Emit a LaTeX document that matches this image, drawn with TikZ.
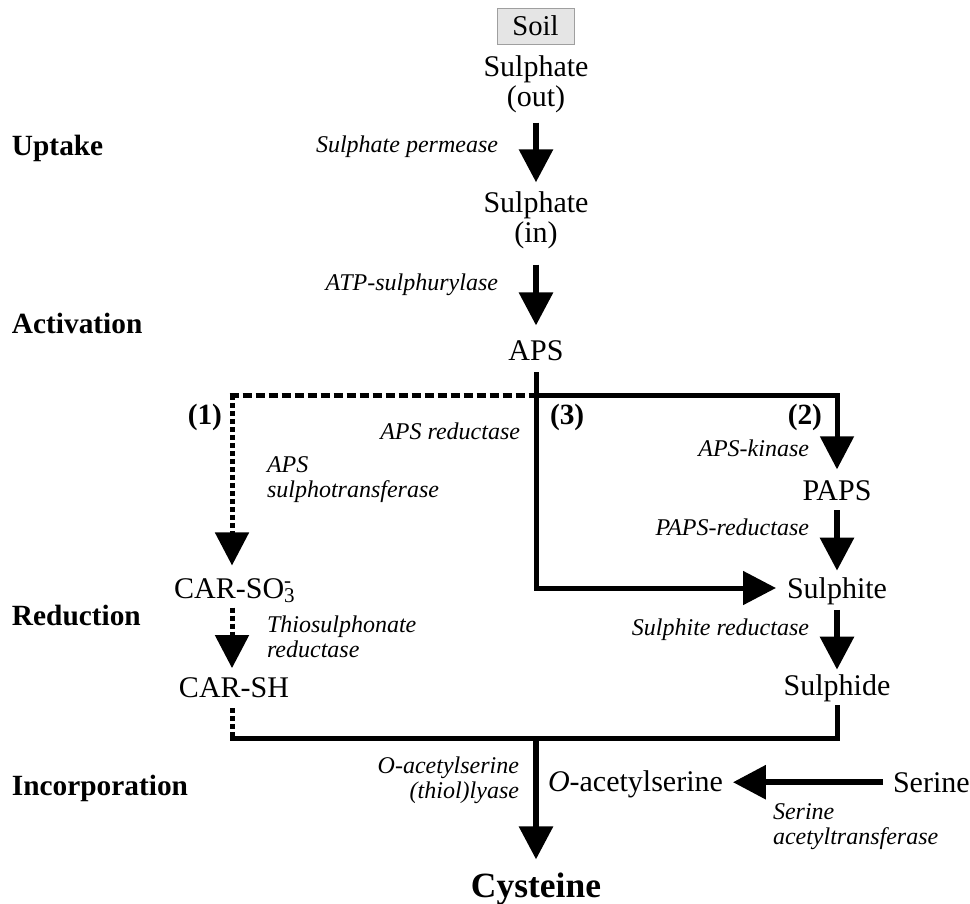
\documentclass[tikz,border=0pt]{standalone}
\usepackage{fontspec}
\setmainfont{Liberation Serif}
\usetikzlibrary{arrows.meta}
\begin{document}
\begin{tikzpicture}[x=0.75pt,y=-0.75pt,
  every node/.style={inner sep=0pt, outer sep=0pt},
  mainnode/.style={font=\fontsize{22.5}{22.5}\selectfont, align=center},
  enz/.style={font=\fontsize{18}{18.75}\selectfont\itshape},
  stage/.style={font=\fontsize{22}{22}\selectfont\bfseries},
  cysstyle/.style={font=\fontsize{26.6}{26.6}\selectfont\bfseries},
  soilbox/.style={draw=gray!75, fill=gray!20, line width=0.75pt, minimum width=57.75pt, minimum height=27pt, font=\fontsize{21.5}{21.5}\selectfont},
  tip/.style={-{Triangle[width=24.75pt,length=24.75pt]}},
  arr/.style={line width=4.5pt, tip},
  conn/.style={line width=3.75pt},
  dashh/.style={line width=3.75pt, dash pattern=on 6.75pt off 3pt},
  dashv/.style={line width=3.75pt, dash pattern=on 3.75pt off 2.25pt}
]
\fill[white] (0,0) rectangle (970,903);
\useasboundingbox (0,0) rectangle (970,903);

% main compounds
\node[soilbox] (soil) at (535.5,26) {Soil};
\node[mainnode] (sout) at (536,84.4) {Sulphate\\(out)};
\node[mainnode] (sin) at (536,220.4) {Sulphate\\(in)};
\node[mainnode, anchor=base] (aps) at (536,360) {APS};
\node[mainnode, anchor=base] (paps) at (837,500.7) {PAPS};
\node[mainnode, anchor=base] (sulphite) at (837,598) {Sulphite};
\node[mainnode, anchor=base] (sulphide) at (837,695) {Sulphide};
\node[mainnode, anchor=base] (carso) at (233,598) {CAR-SO\rlap{\textsubscript{3}}\textsuperscript{-}};
\node[mainnode, anchor=base] (carsh) at (234,697) {CAR-SH};
\node[mainnode, anchor=base west] (oacs) at (548,791) {\textit{O}-acetylserine};
\node[mainnode, anchor=base west] (serine) at (893,792) {Serine};
\node[cysstyle, anchor=base] (cys) at (536,897) {Cysteine};

% enzymes
\node[enz, anchor=base east] (e1) at (498,152) {Sulphate permease};
\node[enz, anchor=base east] (e2) at (498,290) {ATP-sulphurylase};
\node[enz, anchor=base east] (e3) at (520,439) {APS reductase};
\node[enz, align=left, anchor=north west] (e4) at (267,457) {APS\\sulphotransferase};
\node[enz, anchor=base east] (e5) at (809,456) {APS-kinase};
\node[enz, anchor=base east] (e6) at (809,535) {PAPS-reductase};
\node[enz, anchor=base east] (e7) at (809,635) {Sulphite reductase};
\node[enz, align=left, anchor=north west] (e8) at (267,616) {Thiosulphonate\\reductase};
\node[enz, align=right, anchor=north east] (e9) at (519,757) {O-acetylserine\\(thiol)lyase};
\node[enz, align=left, anchor=north west] (e10) at (773,804) {Serine\\acetyltransferase};

% stages and pathway numbers
\node[stage, anchor=base west] (s1) at (12,155) {Uptake};
\node[stage, anchor=base west] (s2) at (12,333) {Activation};
\node[stage, anchor=base west] (s3) at (12,625) {Reduction};
\node[stage, anchor=base west] (s4) at (12,795) {Incorporation};
\node[stage, anchor=base east] (p1) at (222,424) {(1)};
\node[stage, anchor=base west] (p3) at (550,424) {(3)};
\node[stage, anchor=base east] (p2) at (822,424) {(2)};

% junction points
\coordinate (j1) at (536,395);
\coordinate (c1) at (232,395);
\coordinate (c3) at (536,588);
\coordinate (j2) at (536,738);

% connectors
\draw[arr, shorten <=7.3pt, shorten >=7.1pt] (sout.south) -- (sin.north);
\draw[arr, shorten <=11.8pt, shorten >=11pt] (sin.south) -- (aps.north);
\draw[conn, tip, shorten <=9pt, shorten >=8.25pt] (aps.south) -- (c3) -- (c3 -| sulphite.west);
\draw[conn, tip, shorten >=8.6pt] (j1) -| (paps.north);
\draw[dashh] ([xshift=-1.875pt]c1) -- (j1);
\draw[dashv, tip, shorten >=9.5pt] (c1) -- (c1 |- carso.north);
\draw[dashv, tip, shorten <=3.75pt, shorten >=6.75pt] (c1 |- carso.south) -- (c1 |- carsh.north);
\draw[arr, shorten <=7pt, shorten >=4.9pt] (paps.south) -- (sulphite.north);
\draw[arr, shorten <=4.1pt, shorten >=3.4pt] (sulphite.south) -- (sulphide.north);
\draw[conn, line cap=rect, shorten <=4.9pt] (sulphide.south) |- (c1 |- j2);
\draw[dashv, shorten <=8.25pt] (c1 |- carsh.south) -- (c1 |- j2);
\draw[arr, shorten >=9.75pt] (j2) -- (cys.north);
\draw[arr, shorten <=7.5pt, shorten >=7.5pt] (serine.west) -- (serine.west -| oacs.east);
\end{tikzpicture}
\end{document}
